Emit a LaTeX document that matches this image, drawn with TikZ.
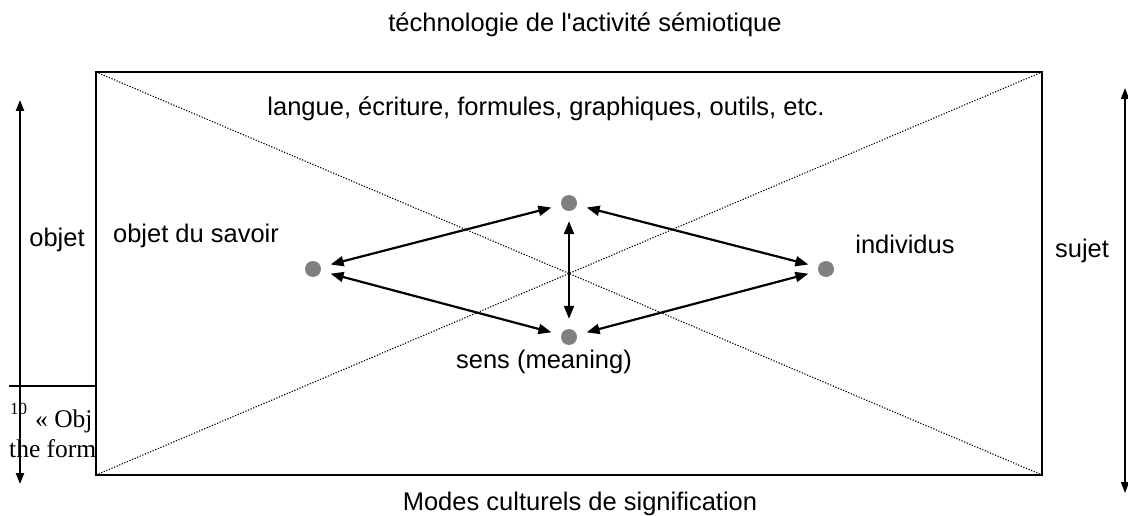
\documentclass[tikz,border=0pt]{standalone}
\usepackage{fontspec}
\setmainfont{Liberation Sans}[Ligatures=TeXOff]
\newfontfamily\timesf{Liberation Serif}
\usetikzlibrary{arrows.meta}
\begin{document}
\begin{tikzpicture}[x=1pt,y=-1pt,
  lbl/.style={inner sep=0pt, anchor=base, font=\fontsize{25.5}{30}\selectfont},
  foot/.style={inner sep=0pt, anchor=base west, font=\timesf\fontsize{25.5}{30}\selectfont},
  dotnode/.style={circle, fill=black!50, minimum size=16pt, inner sep=0pt},
  rel/.style={line width=2.2pt, {Triangle[length=13pt,width=10pt]}-{Triangle[length=13pt,width=10pt]}, shorten <=10pt, shorten >=10pt},
  sidearrow/.style={{Triangle[length=11pt,width=8pt]}-{Triangle[length=11pt,width=8pt]}},
  diag/.style={line width=1.1pt, dash pattern=on 1.2pt off 1.6pt},
  frame/.style={line width=2pt}
]
\useasboundingbox (0,0) rectangle (1128,516);
% footnote fragment, hidden behind the frame
\begin{scope}
  \clip (0,380) rectangle (96,470);
  \node[foot, font=\timesf\fontsize{17}{20}\selectfont] (fnnum) at (10,414) {10};
  \node[foot] (fn1) at (35,427) {« Obj};
  \node[foot] (fn2) at (9,457) {the form};
\end{scope}
\coordinate (sepL) at (9,386);
\coordinate (sepR) at (96,386);
\draw[line width=1.5pt] (sepL) -- (sepR);
% frame
\coordinate (TL) at (96,72);
\coordinate (TR) at (1042,72);
\coordinate (BR) at (1042,475);
\coordinate (BL) at (96,475);
\draw[diag] (TL) -- (BR);
\draw[diag] (BL) -- (TR);
\draw[frame] (TL) rectangle (BR);
% side arrows
\coordinate (oT) at (20,100);
\coordinate (oB) at (20,484);
\draw[sidearrow, line width=2pt] (oB) -- (oT);
\coordinate (sT) at (1125,88);
\coordinate (sB) at (1125,493);
\draw[sidearrow, line width=1.5pt] (sB) -- (sT);
% dots
\node[dotnode] (top) at (569,203) {};
\node[dotnode] (left) at (313,269) {};
\node[dotnode] (right) at (826,269) {};
\node[dotnode] (bot) at (569,337) {};
\draw[rel] (top) -- (left);
\draw[rel] (top) -- (right);
\draw[rel] (left) -- (bot);
\draw[rel] (bot) -- (right);
\draw[rel] (top) -- (bot);
% labels
\node[lbl] (title) at (585,32) {téchnologie de l'activité sémiotique};
\node[lbl] (tools) at (546,116) {langue, écriture, formules, graphiques, outils, etc.};
\node[lbl] (savoir) at (196,243) {objet du savoir};
\node[lbl] (objet) at (57,246) {objet};
\node[lbl] (indiv) at (905,254) {individus};
\node[lbl] (sujet) at (1082,258) {sujet};
\node[lbl] (sens) at (544,368) {sens (meaning)};
\node[lbl] (modes) at (580,510) {Modes culturels de signification};
\end{tikzpicture}
\end{document}
